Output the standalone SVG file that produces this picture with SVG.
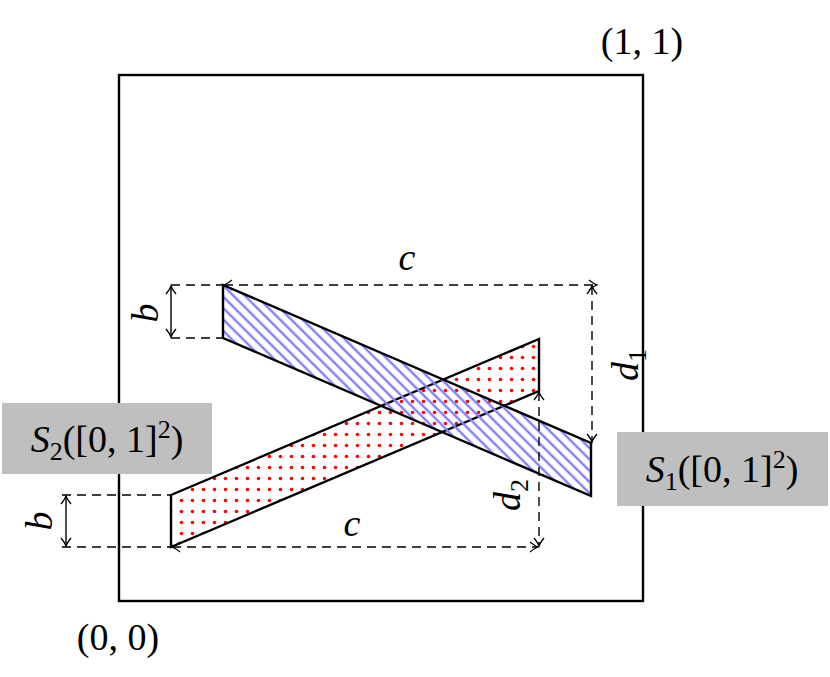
<svg xmlns="http://www.w3.org/2000/svg" width="830" height="677" viewBox="0 0 830 677">
<style>
.e{stroke:#000;stroke-width:2.4;stroke-linejoin:miter}
.n{fill:none}
.d{fill:none;stroke:#000;stroke-width:1.4;stroke-dasharray:9,6}
.a{fill:none;stroke:#000;stroke-width:1.4}
.t{font-family:"Liberation Serif",serif;font-size:38px;fill:#000}
.i{font-style:italic}
.s{font-size:26px}
</style>
<defs>
<pattern id="h" width="8" height="8" patternUnits="userSpaceOnUse" patternTransform="rotate(45)">
<line x1="0" y1="4" x2="8" y2="4" stroke="#8080ff" stroke-width="2.4"/>
</pattern>
<pattern id="p" width="11" height="11" patternUnits="userSpaceOnUse">
<circle cx="5.5" cy="5.5" r="1.8" fill="#ff0000"/>
</pattern>
<marker id="m" viewBox="-10 -6 12 12" markerWidth="12" markerHeight="12" refX="0" refY="0" orient="auto-start-reverse" markerUnits="userSpaceOnUse">
<path d="M-8,-5 Q-3,-1 0,0 Q-3,1 -8,5" fill="none" stroke="#000" stroke-width="1.3"/>
</marker>
</defs>
<rect id="square" x="119" y="75" width="524" height="526" class="e n"/>
<g id="S2">
<polygon points="171,495 539,339 539,391 171,547" style="fill:url(#p)" class="e"/>
</g>
<g id="S1">
<polygon points="223,285 591,443 591,496 223,338" style="fill:url(#h)" class="e"/>
</g>
<g id="connectors">
<line x1="171" y1="285" x2="223" y2="285" class="d"/>
<line x1="171" y1="338" x2="223" y2="338" class="d"/>
<line x1="171" y1="286" x2="171" y2="337" class="a" marker-start="url(#m)" marker-end="url(#m)"/>
<line x1="224" y1="285" x2="597" y2="285" class="d" marker-start="url(#m)" marker-end="url(#m)"/>
<line x1="592" y1="286" x2="592" y2="442" class="d" marker-start="url(#m)" marker-end="url(#m)"/>
<line x1="62" y1="495" x2="171" y2="495" class="d"/>
<line x1="66" y1="496" x2="66" y2="546" class="a" marker-start="url(#m)" marker-end="url(#m)"/>
<line x1="62" y1="547" x2="171" y2="547" class="d"/>
<line x1="172" y1="547" x2="538" y2="547" class="d" marker-start="url(#m)" marker-end="url(#m)"/>
<line x1="539" y1="392" x2="539" y2="546" class="d" marker-start="url(#m)" marker-end="url(#m)"/>
</g>
<g id="labels">
<text class="t" x="642" y="54" text-anchor="middle">(1, 1)</text>
<text class="t" x="118" y="650" text-anchor="middle">(0, 0)</text>
<text class="t i" x="407" y="270" text-anchor="middle">c</text>
<text class="t i" x="352" y="536" text-anchor="middle">c</text>
<text class="t i" transform="translate(158,313) rotate(-90)" text-anchor="middle">b</text>
<text class="t i" transform="translate(52,521) rotate(-90)" text-anchor="middle">b</text>
<text class="t i" transform="translate(638,365) rotate(-90)" text-anchor="middle">d<tspan class="s" dy="8" font-style="normal">1</tspan></text>
<text class="t i" transform="translate(520,495) rotate(-90)" text-anchor="middle">d<tspan class="s" dy="8" font-style="normal">2</tspan></text>
</g>
<g id="S2label">
<rect x="2" y="403" width="210" height="71" fill="#bfbfbf"/>
<text class="t" x="107" y="452" text-anchor="middle"><tspan class="i">S</tspan><tspan class="s" dy="8">2</tspan><tspan dy="-8">([0, 1]</tspan><tspan class="s" dy="-14">2</tspan><tspan dy="14">)</tspan></text>
</g>
<g id="S1label">
<rect x="617" y="432" width="211" height="74" fill="#bfbfbf"/>
<text class="t" x="722" y="482" text-anchor="middle"><tspan class="i">S</tspan><tspan class="s" dy="8">1</tspan><tspan dy="-8">([0, 1]</tspan><tspan class="s" dy="-14">2</tspan><tspan dy="14">)</tspan></text>
</g>
</svg>
